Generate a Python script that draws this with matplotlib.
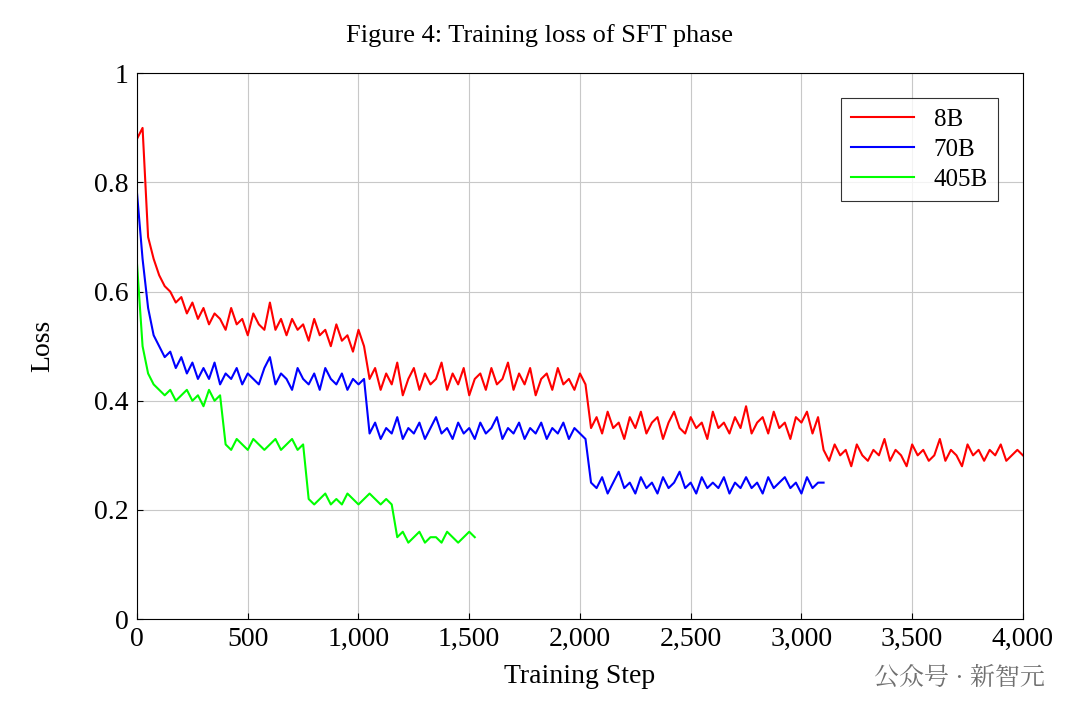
import numpy as np
import matplotlib
matplotlib.use("Agg")
import matplotlib.pyplot as plt
from matplotlib.ticker import FuncFormatter
from matplotlib import font_manager

step = 25
loss_8b = [0.88,0.90,0.70,0.66,0.63,0.61,0.60,0.58,0.59,0.56,0.58,0.55,0.57,0.54,0.56,0.55,0.53,0.57,0.54,0.55,
           0.52,0.56,0.54,0.53,0.58,0.53,0.55,0.52,0.55,0.53,0.54,0.51,0.55,0.52,0.53,0.50,0.54,0.51,0.52,0.49,
           0.53,0.50,0.44,0.46,0.42,0.45,0.43,0.47,0.41,0.44,0.46,0.42,0.45,0.43,0.44,0.47,0.42,0.45,0.43,0.46,
           0.41,0.44,0.45,0.42,0.46,0.43,0.44,0.47,0.42,0.45,0.43,0.46,0.41,0.44,0.45,0.42,0.46,0.43,0.44,0.42,
           0.45,0.43,0.35,0.37,0.34,0.38,0.35,0.36,0.33,0.37,0.35,0.38,0.34,0.36,0.37,0.33,0.36,0.38,0.35,0.34,
           0.37,0.35,0.36,0.33,0.38,0.35,0.36,0.34,0.37,0.35,0.39,0.34,0.36,0.37,0.34,0.38,0.35,0.36,0.33,0.37,
           0.36,0.38,0.34,0.37,0.31,0.29,0.32,0.30,0.31,0.28,0.32,0.30,0.29,0.31,0.30,0.33,0.29,0.31,0.30,0.28,
           0.32,0.30,0.31,0.29,0.30,0.33,0.29,0.31,0.30,0.28,0.32,0.30,0.31,0.29,0.31,0.30,0.32,0.29,0.30,0.31,0.30]
loss_70b = [0.78,0.66,0.57,0.52,0.50,0.48,0.49,0.46,0.48,0.45,0.47,0.44,0.46,0.44,0.47,0.43,0.45,0.44,0.46,0.43,
            0.45,0.44,0.43,0.46,0.48,0.43,0.45,0.44,0.42,0.46,0.44,0.43,0.45,0.42,0.46,0.44,0.43,0.45,0.42,0.44,
            0.43,0.44,0.34,0.36,0.33,0.35,0.34,0.37,0.33,0.35,0.34,0.36,0.33,0.35,0.37,0.34,0.35,0.33,0.36,0.34,
            0.35,0.33,0.36,0.34,0.35,0.37,0.33,0.35,0.34,0.36,0.33,0.35,0.34,0.36,0.33,0.35,0.34,0.36,0.33,0.35,
            0.34,0.33,0.25,0.24,0.26,0.23,0.25,0.27,0.24,0.25,0.23,0.26,0.24,0.25,0.23,0.26,0.24,0.25,0.27,0.24,
            0.25,0.23,0.26,0.24,0.25,0.24,0.26,0.23,0.25,0.24,0.26,0.24,0.25,0.23,0.26,0.24,0.25,0.26,0.24,0.25,
            0.23,0.26,0.24,0.25,0.25]
loss_405b = [0.65,0.50,0.45,0.43,0.42,0.41,0.42,0.40,0.41,0.42,0.40,0.41,0.39,0.42,0.40,0.41,0.32,0.31,0.33,0.32,
             0.31,0.33,0.32,0.31,0.32,0.33,0.31,0.32,0.33,0.31,0.32,0.22,0.21,0.22,0.23,0.21,0.22,0.21,0.23,0.22,
             0.21,0.22,0.23,0.22,0.21,0.22,0.21,0.15,0.16,0.14,0.15,0.16,0.14,0.15,0.15,0.14,0.16,0.15,0.14,0.15,
             0.16,0.15]
series = [("8B", loss_8b, "#ff0000"), ("70B", loss_70b, "#0000ff"), ("405B", loss_405b, "#00ff00")]

cjk = None
for f in font_manager.fontManager.ttflist:
    if "CJK" in f.name:
        cjk = f.name
        break

plt.rcParams["font.family"] = "Liberation Serif"
fig = plt.figure(figsize=(10.79, 7.19), dpi=100)
ax = fig.add_axes([0.127, 0.139, 0.821, 0.759])
for name, ys, c in series:
    xs = np.arange(len(ys)) * step
    ax.plot(xs, ys, color=c, lw=1.5, label=name)
ax.set_xlim(0, 4000)
ax.set_ylim(0, 1)
ax.set_xticks(np.arange(0, 4001, 500))
ax.set_yticks([0, 0.2, 0.4, 0.6, 0.8, 1])
ax.xaxis.set_major_formatter(FuncFormatter(lambda v, p: f"{int(v):,}"))
ax.yaxis.set_major_formatter(FuncFormatter(lambda v, p: f"{v:g}"))
ax.grid(True, color="#c8c8c8", lw=0.8)
ax.tick_params(direction="in", labelsize=20, length=4, pad=6)
ax.set_xlabel("Training Step", fontsize=20, labelpad=8)
ax.set_ylabel("Loss", fontsize=20, labelpad=28)
fig.text(0.5, 0.942, "Figure 4: Training loss of SFT phase", ha="center", fontsize=19)
leg = ax.legend(loc="upper right", fontsize=18, fancybox=False, edgecolor="black",
                handlelength=2.5, borderaxespad=1.0, labelspacing=0.3)
leg.get_frame().set_linewidth(0.8)
kw = {"fontfamily": cjk} if cjk else {}
fig.text(0.968, 0.048, "公众号 · 新智元", ha="right", fontsize=18, color="#707070", **kw)
fig.savefig("out.png", dpi=100)
